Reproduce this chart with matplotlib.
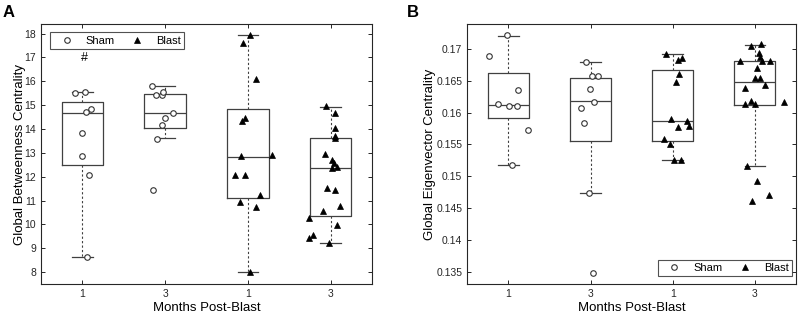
import matplotlib
matplotlib.use("Agg")
import matplotlib.pyplot as plt
from matplotlib.lines import Line2D
from matplotlib.ticker import FuncFormatter

plt.rcParams['font.family'] = ['Liberation Sans', 'DejaVu Sans']

groups = ["Sham 1", "Sham 3", "Blast 1", "Blast 3"]
xticklabels = ["1", "3", "1", "3"]

# panel A: global betweenness centrality
bc_sham1 = [15.5, 15.55, 14.83, 14.73, 13.85, 12.87, 12.08, 8.64]
bc_sham1_jit = [-0.085, 0.036, 0.10, 0.045, 0.0, 0.0, 0.077, 0.053]
bc_sham3 = [15.79, 15.43, 15.42, 15.57, 14.66, 14.48, 14.16, 13.57, 11.43]
bc_sham3_jit = [-0.16, -0.11, -0.04, -0.024, 0.09, -0.007, -0.04, -0.10, -0.145]
bc_blast1 = [17.92, 17.62, 16.11, 14.45, 14.35, 12.86, 12.91, 12.08, 12.05,
             11.23, 10.93, 10.72, 8.0]
bc_blast1_jit = [0.02, -0.06, 0.10, -0.04, -0.07, -0.08, 0.29, -0.16, -0.03,
                 0.15, -0.09, 0.10, 0.03]
bc_blast3 = [14.96, 14.65, 14.06, 13.71, 13.62, 12.95, 12.70, 12.59, 12.38,
             12.42, 11.54, 11.43, 10.76, 10.54, 10.26, 9.99, 9.56, 9.41, 9.22]
bc_blast3_jit = [-0.056, 0.057, 0.057, 0.057, 0.048, -0.073, 0.017, 0.036, 0.017,
                 0.073, -0.044, 0.057, 0.114, -0.092, -0.258, 0.077, -0.218, -0.258, -0.016]

# box stats: lower whisker, q1, median, q3, upper whisker
bc_whislo = [8.64, 13.6, 7.99, 9.21]
bc_q1 = [12.48, 14.03, 11.1, 10.37]
bc_med = [14.66, 14.66, 12.83, 12.36]
bc_q3 = [15.15, 15.46, 14.84, 13.6]
bc_whishi = [15.55, 15.79, 17.92, 14.94]

# panel B: global eigenvector centrality
ec_sham1 = [0.1721, 0.16895, 0.16352, 0.16132, 0.161, 0.161, 0.15724, 0.15175]
ec_sham1_jit = [-0.012, -0.234, 0.113, -0.13, 0.012, 0.10, 0.238, 0.04]
ec_sham3 = [0.16796, 0.1657, 0.1657, 0.16367, 0.16173, 0.16069, 0.15834, 0.14744, 0.13489]
ec_sham3_jit = [-0.06, 0.02, 0.097, -0.005, 0.046, -0.117, -0.073, -0.02, 0.036]
ec_blast1 = [0.16926, 0.16827, 0.16863, 0.16612, 0.16477, 0.15901, 0.15875, 0.15771,
             0.15791, 0.15583, 0.15509, 0.15258, 0.15258]
ec_blast1_jit = [-0.076, 0.069, 0.114, 0.077, 0.041, -0.016, 0.174, 0.069, 0.198,
                 -0.109, -0.031, 0.012, 0.097]
ec_blast3 = [0.17052, 0.17078, 0.16932, 0.16879, 0.16812, 0.16817, 0.16812, 0.16697,
             0.1655, 0.1655, 0.16435, 0.16383, 0.16189, 0.16132, 0.16132, 0.16163,
             0.15164, 0.14933, 0.14708, 0.14609]
ec_blast3_jit = [-0.053, 0.073, 0.048, 0.064, -0.181, 0.092, 0.181, 0.031, 0.0, 0.064,
                 0.125, -0.121, -0.048, -0.121, 0.004, 0.354, -0.093, 0.024, 0.169, -0.041]

ec_whislo = [0.15175, 0.14744, 0.15253, 0.15169]
ec_q1 = [0.15917, 0.15561, 0.15551, 0.16126]
ec_med = [0.16116, 0.16179, 0.15865, 0.16482]
ec_q3 = [0.16623, 0.1655, 0.16666, 0.16807]
ec_whishi = [0.17209, 0.16796, 0.16926, 0.17068]

line_c = '#404040'
sham_style = dict(marker='o', ms=4, mfc='white', mec='#333333', mew=0.8, ls='none')
blast_style = dict(marker='^', ms=4.5, mfc='black', mec='black', mew=0.5, ls='none')


def draw_panel(ax, pts, jits, whislo, q1, med, q3, whishi):
    stats = []
    for i in range(4):
        stats.append(dict(whislo=whislo[i], q1=q1[i], med=med[i], q3=q3[i],
                          whishi=whishi[i], fliers=[]))
    ax.bxp(stats, positions=[1, 2, 3, 4], widths=0.5, showfliers=False,
           boxprops=dict(color=line_c, lw=0.9),
           medianprops=dict(color=line_c, lw=0.9),
           whiskerprops=dict(color=line_c, lw=0.8, ls=(0, (2, 2))),
           capprops=dict(color=line_c, lw=0.9))
    for i in range(4):
        xs = [i + 1 + j for j in jits[i]]
        st = sham_style if i < 2 else blast_style
        ax.plot(xs, pts[i], zorder=3, **st)
    ax.set_xlim(0.5, 4.5)
    ax.set_xticks([1, 2, 3, 4])
    ax.set_xticklabels(xticklabels)
    ax.tick_params(direction='in', top=True, right=True, labelsize=7.5,
                   length=3, width=0.7, colors='#262626')
    for s in ax.spines.values():
        s.set_color('#262626')
        s.set_linewidth(0.8)
    ax.set_xlabel("Months Post-Blast", fontsize=9.5, labelpad=2)


def add_legend(ax, **kw):
    handles = [Line2D([], [], **sham_style), Line2D([], [], **blast_style)]
    leg = ax.legend(handles, ["Sham", "Blast"], ncol=2, fontsize=8,
                    frameon=True, fancybox=False, borderaxespad=0,
                    handlelength=2.4, handletextpad=0.5, columnspacing=0.85,
                    borderpad=0.3, **kw)
    leg.get_frame().set_edgecolor('#262626')
    leg.get_frame().set_linewidth(0.8)


fig = plt.figure(figsize=(8, 3.15), dpi=100)
axA = fig.add_axes([0.05125, 0.0984, 0.41375, 0.8254])
axB = fig.add_axes([0.584, 0.0984, 0.411, 0.8254])

draw_panel(axA, [bc_sham1, bc_sham3, bc_blast1, bc_blast3],
           [bc_sham1_jit, bc_sham3_jit, bc_blast1_jit, bc_blast3_jit],
           bc_whislo, bc_q1, bc_med, bc_q3, bc_whishi)
axA.set_ylim(7.5, 18.4)
axA.set_yticks(range(8, 19))
axA.set_ylabel("Global Betweenness Centrality", fontsize=9.5, labelpad=-1)
axA.text(1.03, 16.97, "#", ha='center', va='center', fontsize=9)
add_legend(axA, loc='upper left', bbox_to_anchor=(0.027, 0.968))

draw_panel(axB, [ec_sham1, ec_sham3, ec_blast1, ec_blast3],
           [ec_sham1_jit, ec_sham3_jit, ec_blast1_jit, ec_blast3_jit],
           ec_whislo, ec_q1, ec_med, ec_q3, ec_whishi)
axB.set_ylim(0.1331, 0.1739)
axB.set_yticks([0.135, 0.14, 0.145, 0.15, 0.155, 0.16, 0.165, 0.17])
axB.yaxis.set_major_formatter(FuncFormatter(lambda v, p: f"{v:g}"))
axB.set_ylabel("Global Eigenvector Centrality", fontsize=9.5, labelpad=0)
add_legend(axB, loc='lower right', bbox_to_anchor=(0.988, 0.029))

fig.text(0.003, 0.985, "A", fontsize=12, fontweight='bold', va='top')
fig.text(0.508, 0.985, "B", fontsize=12, fontweight='bold', va='top')

fig.savefig("out.png", dpi=100)
